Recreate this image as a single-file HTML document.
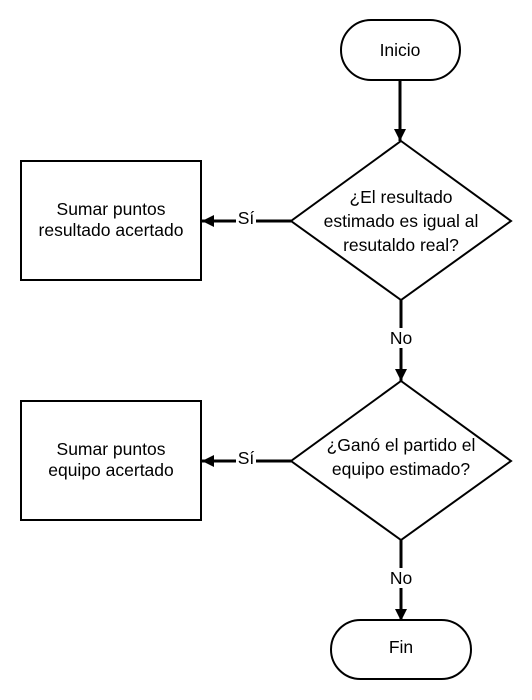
<!DOCTYPE html>
<html><head><meta charset="utf-8"><style>body{margin:0;background:#fff}svg{display:block}text{font-family:"Liberation Sans",sans-serif;font-size:17.5px;fill:#000;text-anchor:middle}</style></head>
<body>
<svg width="532" height="700" viewBox="0 0 532 700">
<defs><marker id="ah" markerWidth="12" markerHeight="12" refX="12" refY="6" orient="auto" markerUnits="userSpaceOnUse" viewBox="0 0 12 12"><path d="M0,0 L12,6 L0,12 z" fill="#000"/></marker></defs>
<g><rect x="341" y="20" width="119" height="60" rx="30" fill="#fff" stroke="#000" stroke-width="2"/><text x="400" y="56">Inicio</text></g>
<line x1="400" y1="80" x2="400" y2="141" stroke="#000" stroke-width="3" marker-end="url(#ah)"/>
<g><polygon points="401,141 511,221 401,300 291,221" fill="#fff" stroke="#000" stroke-width="2"/><text x="401" y="203">¿El resultado</text><text x="401" y="227">estimado es igual al</text><text x="401" y="251">resutaldo real?</text></g>
<g><rect x="21" y="161" width="180" height="119" fill="#fff" stroke="#000" stroke-width="2"/><text x="111" y="215">Sumar puntos</text><text x="111" y="236">resultado acertado</text></g>
<line x1="291" y1="221" x2="202" y2="221" stroke="#000" stroke-width="3" marker-end="url(#ah)"/>
<rect x="236" y="210" width="20" height="20" fill="#fff"/><text x="246" y="224">Sí</text>
<line x1="401" y1="300" x2="401" y2="381" stroke="#000" stroke-width="3" marker-end="url(#ah)"/>
<rect x="386" y="328" width="30" height="20" fill="#fff"/><text x="401" y="344">No</text>
<g><polygon points="401,381 511,461 401,540 291,461" fill="#fff" stroke="#000" stroke-width="2"/><text x="401" y="451">¿Ganó el partido el</text><text x="401" y="475">equipo estimado?</text></g>
<g><rect x="21" y="401" width="180" height="119" fill="#fff" stroke="#000" stroke-width="2"/><text x="111" y="455">Sumar puntos</text><text x="111" y="476">equipo acertado</text></g>
<line x1="291" y1="461" x2="202" y2="461" stroke="#000" stroke-width="3" marker-end="url(#ah)"/>
<rect x="236" y="450" width="20" height="20" fill="#fff"/><text x="246" y="464">Sí</text>
<line x1="401" y1="540" x2="401" y2="621" stroke="#000" stroke-width="3" marker-end="url(#ah)"/>
<rect x="386" y="568" width="30" height="20" fill="#fff"/><text x="401" y="584">No</text>
<g><rect x="331" y="620" width="140" height="59" rx="29.5" fill="#fff" stroke="#000" stroke-width="2"/><text x="401" y="653">Fin</text></g>
</svg>
</body></html>
